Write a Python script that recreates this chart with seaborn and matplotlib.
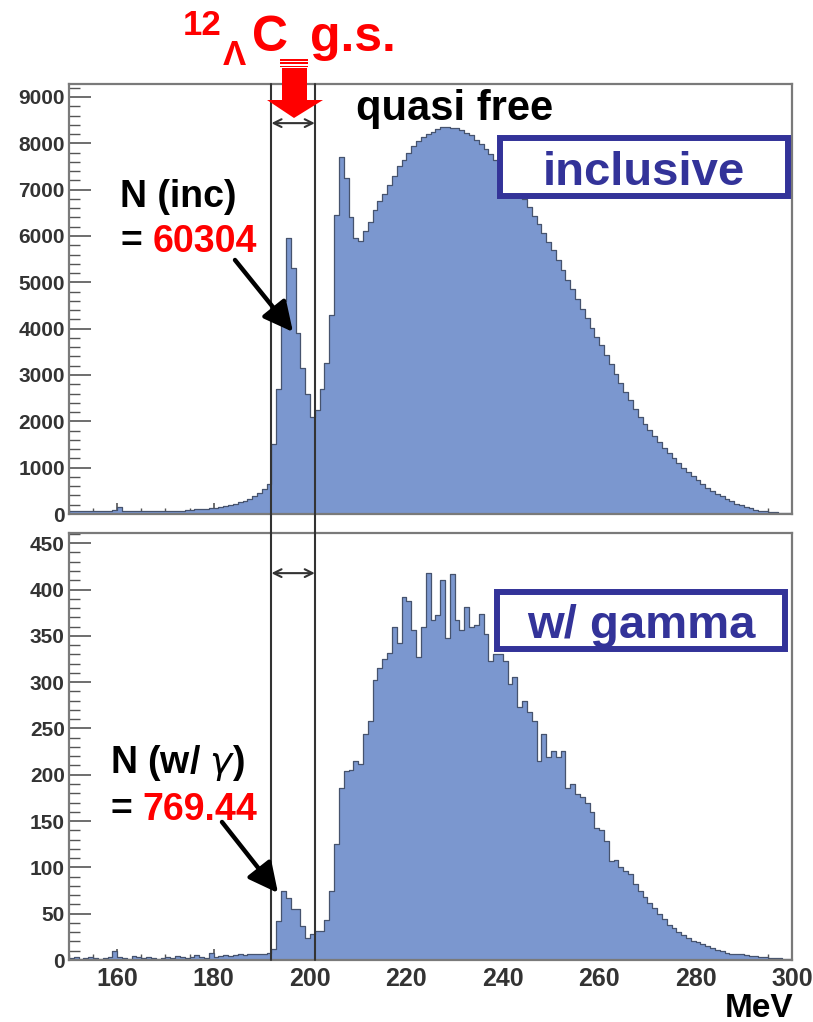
import numpy as np
import pandas as pd
import matplotlib
matplotlib.use("Agg")
import matplotlib.pyplot as plt
import matplotlib.transforms as mtransforms
from matplotlib.patches import Rectangle, Polygon, FancyArrowPatch
from matplotlib.lines import Line2D
from matplotlib.ticker import MultipleLocator
import seaborn as sns

# ---------------- data ----------------
bin_edges = list(range(150, 301, 1))          # MeV, 1 MeV bins
bin_centers = [e + 0.5 for e in bin_edges[:-1]]

inclusive_counts = [
    60, 70, 60, 70, 60, 70, 60, 70, 60, 80,
    150, 70, 60, 60, 70, 60, 70, 60, 60, 70,
    70, 60, 70, 70, 80, 90, 100, 100, 110, 120,
    130, 150, 170, 190, 220, 250, 290, 330, 390, 450,
    530, 650, 1500, 2700, 4600, 5950, 5300, 3900, 3150, 2600,
    2100, 2250, 2700, 3250, 4300, 6450, 7700, 7250, 6400, 5950,
    5900, 6100, 6300, 6550, 6750, 6900, 7100, 7300, 7500, 7650,
    7800, 7950, 8050, 8130, 8200, 8250, 8300, 8350, 8360, 8340,
    8320, 8280, 8230, 8170, 8080, 7990, 7880, 7760, 7640, 7520,
    7400, 7260, 7120, 6980, 6800, 6620, 6440, 6250, 6060, 5870,
    5690, 5480, 5270, 5060, 4850, 4640, 4430, 4220, 4020, 3820,
    3640, 3440, 3240, 3030, 2830, 2640, 2450, 2260, 2100, 1950,
    1820, 1690, 1560, 1430, 1310, 1200, 1090, 990, 900, 810,
    730, 650, 570, 500, 440, 380, 320, 270, 225, 185,
    150, 120, 95, 75, 58, 44, 34, 27, 22, 18,
]

gamma_counts = [
    2, 3, 1, 2, 3, 2, 1, 2, 3, 10,
    3, 2, 1, 4, 3, 2, 3, 2, 1, 2,
    3, 2, 4, 3, 2, 3, 5, 3, 2, 8,
    3, 4, 5, 4, 5, 6, 5, 6, 7, 6,
    6, 8, 12, 42, 75, 67, 55, 55, 37, 24,
    28, 31, 31, 43, 75, 125, 186, 204, 205, 215,
    212, 244, 258, 302, 315, 325, 331, 359, 342, 392,
    388, 356, 327, 360, 418, 367, 372, 410, 348, 417,
    367, 356, 381, 359, 362, 374, 352, 323, 330, 330,
    323, 298, 305, 273, 280, 268, 258, 215, 244, 219,
    226, 219, 226, 186, 190, 179, 176, 169, 160, 143,
    140, 128, 107, 108, 100, 96, 93, 82, 75, 68,
    62, 56, 50, 44, 38, 35, 30, 27, 24, 21,
    19, 17, 15, 13, 11, 10, 8, 7, 6, 6,
    5, 4, 4, 3, 3, 2, 2, 2, 1, 1,
]

window_edges = [192, 201]                    # MeV, g.s. window
x_ticks = [160, 180, 200, 220, 240, 260, 280, 300]
top_yticks = [0, 1000, 2000, 3000, 4000, 5000, 6000, 7000, 8000, 9000]
bottom_yticks = [0, 50, 100, 150, 200, 250, 300, 350, 400, 450]

# ---------------- style ----------------
sns.set_theme(style="white")
plt.rcParams['font.family'] = ['Liberation Sans', 'DejaVu Sans']

FILL = '#7b97cf'
EDGE = '#46536e'
FRAME = '#7a7a7a'
TICKC = '#333333'
BLUE = '#333399'
RED = '#ff0000'

W, H = 813, 1022
fig = plt.figure(figsize=(W / 100, H / 100), dpi=100)
fig.patch.set_facecolor('white')


def fx(x):
    return x / W


def fy(y):
    return 1 - y / H


ax1 = fig.add_axes([fx(69), fy(514), fx(792) - fx(69), fy(84) - fy(514)])
ax2 = fig.add_axes([fx(69), fy(960), fx(792) - fx(69), fy(533) - fy(960)])

for ax, counts, ymax in ((ax1, inclusive_counts, 9280), (ax2, gamma_counts, 461)):
    df = pd.DataFrame({'MeV': bin_centers, 'counts': counts})
    sns.histplot(data=df, x='MeV', weights='counts', bins=bin_edges, element='step',
                 fill=True, color=FILL, alpha=1.0, edgecolor=EDGE, linewidth=0.9,
                 ax=ax)
    ax.set_xlim(150, 300)
    ax.set_ylim(0, ymax)
    ax.set_xlabel('')
    ax.set_ylabel('')
    ax.set_facecolor('white')
    for s in ax.spines.values():
        s.set_color(FRAME)
        s.set_linewidth(1.6)
    ax.set_xticks(x_ticks)
    ax.xaxis.set_minor_locator(MultipleLocator(5))
    ax.tick_params(axis='both', which='both', direction='in', colors=TICKC,
                   left=True, bottom=True, right=False, top=False)
    ax.tick_params(axis='x', which='major', length=8, width=1.2, color='#555555')
    ax.tick_params(axis='x', which='minor', length=4, width=1.0, color='#555555')
    ax.tick_params(axis='y', which='major', length=16, width=1.2, pad=3, color='#555555')
    ax.tick_params(axis='y', which='minor', length=8, width=1.0, color='#555555')
    ax.grid(False)

ax1.set_yticks(top_yticks)
ax1.yaxis.set_minor_locator(MultipleLocator(200))
ax1.tick_params(axis='x', labelbottom=False)
ax2.set_yticks(bottom_yticks)
ax2.yaxis.set_minor_locator(MultipleLocator(10))
ax2.tick_params(axis='x', labelbottom=True, pad=5)

for ax in (ax1, ax2):
    for lab in ax.get_yticklabels():
        lab.set_fontsize(15)
        lab.set_fontweight('bold')
        lab.set_color(TICKC)
for lab in ax2.get_xticklabels():
    lab.set_fontsize(18)
    lab.set_fontweight('bold')
    lab.set_color(TICKC)

# window lines spanning both panels
blend = mtransforms.blended_transform_factory(ax1.transData, fig.transFigure)
for xe in window_edges:
    fig.add_artist(Line2D([xe, xe], [fy(960), fy(84)], transform=blend,
                          color='#333333', lw=1.5, zorder=3))

# double arrows inside window
for ax, yfrac in ((ax1, 0.909), (ax2, 0.906)):
    ax.annotate('', xy=(window_edges[0], yfrac), xytext=(window_edges[1], yfrac),
                xycoords=('data', 'axes fraction'), textcoords=('data', 'axes fraction'),
                arrowprops=dict(arrowstyle='<->', color='#333333', lw=1.5,
                                mutation_scale=14, shrinkA=0, shrinkB=0))

# ---------------- annotations ----------------
def ftext(x, y, s, **kw):
    return fig.text(fx(x), fy(y), s, **kw)

# title 12_Lambda C g.s.
ftext(183, 35, '12', fontsize=25, color=RED, weight='bold', va='baseline', ha='left')
ftext(223, 65, 'Λ', fontsize=25, color=RED, weight='bold', va='baseline', ha='left')
ftext(252, 51, 'C', fontsize=36, color=RED, weight='bold', va='baseline', ha='left')
ftext(310, 51, 'g.s.', fontsize=36, color=RED, weight='bold', va='baseline', ha='left')

# red block arrow with stripes
def pts(lst):
    return [(fx(a), fy(b)) for a, b in lst]

fig.patches.append(Polygon(pts([(282, 68), (307, 68), (307, 100), (323, 100),
                                (294, 118), (267, 100), (282, 100)]),
                           closed=True, transform=fig.transFigure,
                           facecolor=RED, edgecolor='none', zorder=5))
for y0, y1 in ((59, 61.2), (62.4, 64.4), (65.6, 67.2)):
    fig.patches.append(Rectangle((fx(280), fy(y1)), fx(308) - fx(280), fy(y0) - fy(y1),
                                 transform=fig.transFigure, facecolor=RED,
                                 edgecolor='none', zorder=5))

ftext(455, 120, 'quasi free', fontsize=30, color='black', weight='bold',
      va='baseline', ha='center')

# labelled boxes
for (x0, y0, x1, y1), (tx, ty), label in (((500, 138, 788, 196), (644, 185), 'inclusive'),
                                           ((497, 592, 785, 649), (641, 638), 'w/ gamma')):
    fig.patches.append(Rectangle((fx(x0), fy(y1)), fx(x1) - fx(x0), fy(y0) - fy(y1),
                                 transform=fig.transFigure, facecolor='white',
                                 edgecolor=BLUE, linewidth=4.3, zorder=4))
    t = ftext(tx, ty, label, fontsize=34, color=BLUE, weight='bold',
              va='baseline', ha='center')
    t.set_zorder(6)

# counts text
ftext(120, 207, 'N (inc)', fontsize=27, color='black', weight='bold', va='baseline')
ftext(120, 252, '=', fontsize=27, color='black', weight='bold', va='baseline')
ftext(153, 252, '60304', fontsize=27, color=RED, weight='bold', va='baseline')

ftext(110, 773, 'N (w/ $\\gamma$)', fontsize=27, color='black', weight='bold', va='baseline')
ftext(110, 820, '=', fontsize=27, color='black', weight='bold', va='baseline')
ftext(142, 820, '769.44', fontsize=27, color=RED, weight='bold', va='baseline')

for (xa, ya), (xb, yb) in (((235, 260), (293, 332)), ((222, 822), (278, 893))):
    fig.patches.append(FancyArrowPatch((fx(xa), fy(ya)), (fx(xb), fy(yb)),
                                       transform=fig.transFigure,
                                       arrowstyle='-|>,head_length=0.6,head_width=0.3',
                                       mutation_scale=30, lw=3.2, color='black',
                                       shrinkA=0, shrinkB=0, zorder=6))

ftext(793, 1017, 'MeV', fontsize=24, color='black', weight='bold',
      va='baseline', ha='right')

fig.savefig('out.png', dpi=100)
